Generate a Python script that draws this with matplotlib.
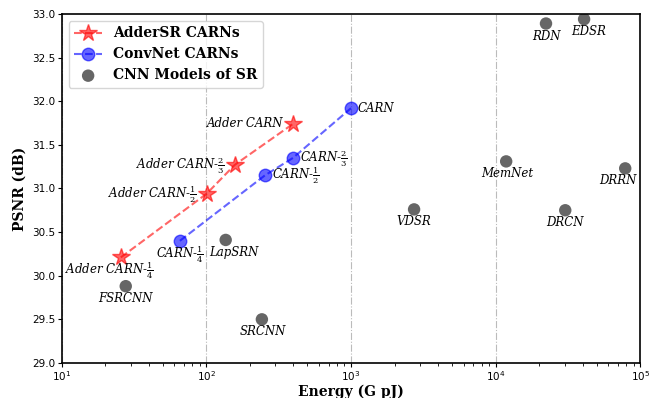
import matplotlib.pyplot as plt

plt.rcParams["mathtext.fontset"] = "dejavuserif"

# AdderSR CARNs
adder_e = [25.6, 100.5, 157, 397]
adder_p = [30.21, 30.94, 31.27, 31.74]
adder_names = [r"Adder CARN-$\frac{1}{4}$", r"Adder CARN-$\frac{1}{2}$",
               r"Adder CARN-$\frac{2}{3}$", "Adder CARN"]

# ConvNet CARNs
conv_e = [65.6, 254, 397, 1000]
conv_p = [30.40, 31.15, 31.35, 31.92]
conv_names = [r"CARN-$\frac{1}{4}$", r"CARN-$\frac{1}{2}$",
              r"CARN-$\frac{2}{3}$", "CARN"]

# other CNN models
cnn_names = ["FSRCNN", "LapSRN", "SRCNN", "VDSR", "MemNet", "DRCN", "DRRN", "RDN", "EDSR"]
cnn_e = [27.7, 136, 242, 2730, 11830, 30300, 78700, 22300, 40900]
cnn_p = [29.88, 30.41, 29.50, 30.76, 31.31, 30.75, 31.23, 32.89, 32.94]
cnn_dx = [0, 6, 1, 0, 1, 0, -5, 0, 3]   # small label nudges (pt)

fig = plt.figure(figsize=(6.5, 3.98), dpi=100)
ax = fig.add_axes([0.095, 0.088, 0.89, 0.877])

ax.plot(adder_e, adder_p, "--", color="red", marker="*", markersize=13,
        alpha=0.6, label="AdderSR CARNs")
ax.plot(conv_e, conv_p, "--", color="blue", marker="o", markersize=9,
        alpha=0.6, label="ConvNet CARNs")
ax.scatter(cnn_e, cnn_p, s=80, color="#555555", alpha=0.9, label="CNN Models of SR",
           edgecolors="none")

lab = dict(fontsize=8.5, family="DejaVu Serif", style="italic")
# adder labels
ax.annotate(adder_names[0], (adder_e[0], adder_p[0]), xytext=(-8, -9.5),
            textcoords="offset points", ha="center", va="center", **lab)
for e, p, n in zip(adder_e[1:], adder_p[1:], adder_names[1:]):
    ax.annotate(n, (e, p), xytext=(-7, 0), textcoords="offset points",
                ha="right", va="center", **lab)
# conv labels
ax.annotate(conv_names[0], (conv_e[0], conv_p[0]), xytext=(0, -9.5),
            textcoords="offset points", ha="center", va="center", **lab)
for e, p, n in zip(conv_e[1:], conv_p[1:], conv_names[1:]):
    ax.annotate(n, (e, p), xytext=(5, 0), textcoords="offset points",
                ha="left", va="center", **lab)
# CNN labels below
for e, p, n, dx in zip(cnn_e, cnn_p, cnn_names, cnn_dx):
    ax.annotate(n, (e, p), xytext=(dx, -9), textcoords="offset points",
                ha="center", va="center", **lab)

ax.set_xscale("log")
ax.set_xlim(10, 1e5)
ax.set_ylim(29.0, 33.0)
ax.set_yticks([29.0, 29.5, 30.0, 30.5, 31.0, 31.5, 32.0, 32.5, 33.0])
ax.tick_params(which="major", labelsize=7.5, pad=1.5, length=3)
ax.tick_params(which="minor", length=1.8)
ax.grid(True, axis="x", which="major", linestyle="-.", color="#bbbbbb", linewidth=0.8)
for s in ax.spines.values():
    s.set_linewidth(1.2)

ax.set_xlabel("Energy (G pJ)", fontsize=10, fontweight="bold", family="DejaVu Serif",
              labelpad=1)
ax.set_ylabel("PSNR (dB)", fontsize=10, fontweight="bold", family="DejaVu Serif",
              labelpad=4)
ax.legend(loc="upper left", prop={"family": "DejaVu Serif", "weight": "bold", "size": 10})

fig.savefig("out.png", dpi=100)
